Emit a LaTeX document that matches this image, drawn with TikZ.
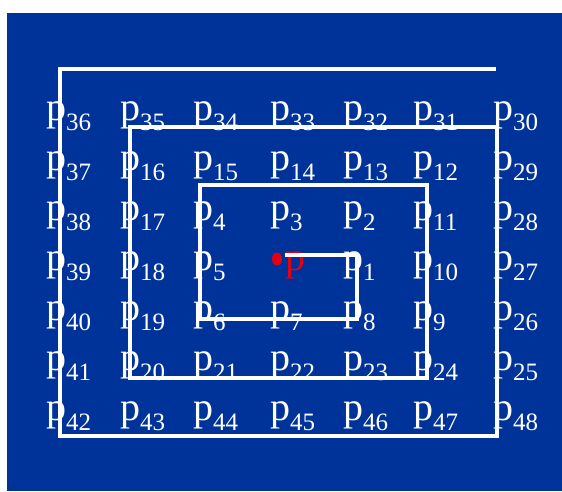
\documentclass[tikz,border=0pt]{standalone}
\usepackage{fontspec}
\setmainfont{Liberation Serif}
\definecolor{bgblue}{RGB}{0,51,153}
\definecolor{ptred}{RGB}{225,0,20}
\newcommand{\plab}[1]{p\raisebox{-10pt}{\fontsize{25}{25}\selectfont #1}}
\begin{document}
\begin{tikzpicture}[x=1pt, y=-1pt,
    track/.style={white, line width=4.5pt},
    every node/.style={inner sep=0pt, anchor=base west, text=white, font=\fontsize{40}{40}\selectfont}]
\fill[white] (0,0) rectangle (562,491);
\fill[bgblue] (7,13) rectangle (562,491);
\def\colx{{46,120,193,270,343,413,493}}
\foreach \y/\row in {120/{36,35,34,33,32,31,30}, 170/{37,16,15,14,13,12,29},
    220/{38,17,4,3,2,11,28}, 270/{39,18,5,0,1,10,27}, 320/{40,19,6,7,8,9,26},
    370/{41,20,21,22,23,24,25}, 420/{42,43,44,45,46,47,48}}
  \foreach \n [count=\c from 0] in \row {
    \pgfmathsetmacro\x{\colx[\c]}
    \ifnum\n>0 \node (p\n) at (\x,\y) {\plab{\n}};\fi
  };
\node[text=ptred] (p) at (285,270) {p};
% spiral from p outwards
\draw[track] (285,255) -- (357,255) -- (357,319) -- (200,319) -- (200,185)
  -- (427,185) -- (427,378) -- (130,378) -- (130,127) -- (497,127)
  -- (497,436) -- (60,436) -- (60,69) -- (496,69);
\fill[ptred] (277,259) ellipse (5pt and 6.5pt);
\end{tikzpicture}
\end{document}
